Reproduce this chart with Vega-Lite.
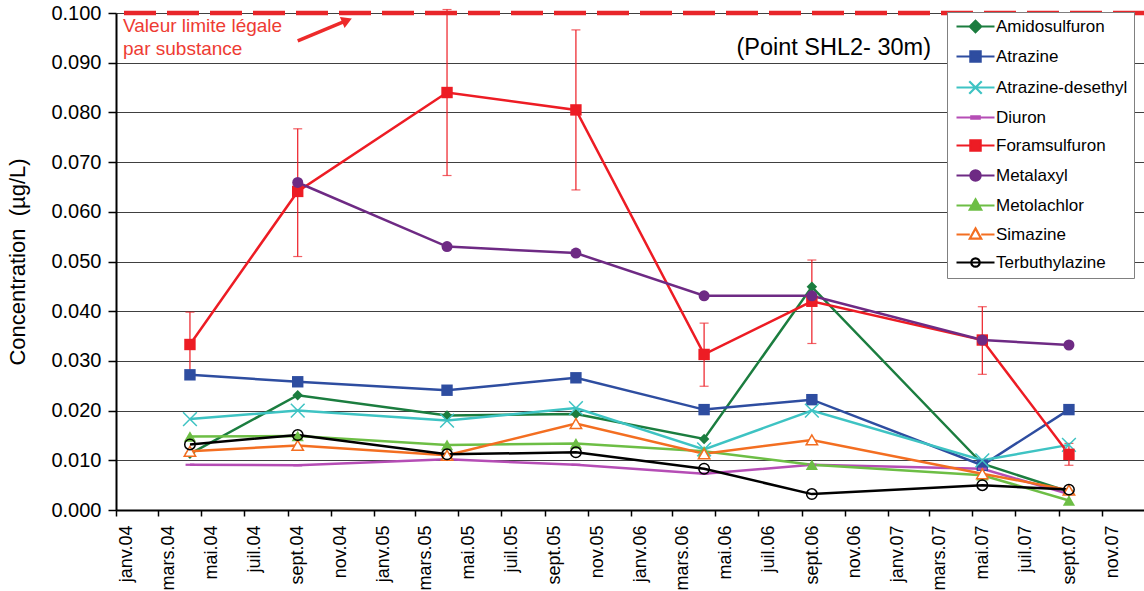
{
  "$schema": "https://vega.github.io/schema/vega-lite/v6.json",
  "width": 1029,
  "height": 497,
  "autosize": "none",
  "padding": {"left": 116, "top": 13, "right": 0, "bottom": 81},
  "config": {
    "view": {"stroke": null},
    "font": "Liberation Sans",
    "axisX": {
      "grid": false,
      "labelAngle": 270,
      "labelAlign": "right",
      "labelBaseline": "middle",
      "labelOffset": 10,
      "labelPadding": 9,
      "labelFontSize": 18,
      "labelColor": "#000",
      "labelOverlap": false,
      "labelFlush": false,
      "domainColor": "#000",
      "domainWidth": 2,
      "tickColor": "#000",
      "tickSize": 6,
      "tickWidth": 1.5
    },
    "axisY": {
      "labelFontSize": 20,
      "labelColor": "#000",
      "labelPadding": 7,
      "grid": true,
      "gridColor": "#404040",
      "gridWidth": 1,
      "domainColor": "#000",
      "domainWidth": 2,
      "tickColor": "#000",
      "tickSize": 8,
      "tickWidth": 1.5,
      "titleFontSize": 22,
      "titleFontWeight": "normal",
      "titleColor": "#000",
      "titlePadding": 21
    }
  },
  "datasets": {
    "conc": [
      {"date": "2004/04/15", "substance": "Amidosulfuron", "value": 0.0113},
      {"date": "2004/09/15", "substance": "Amidosulfuron", "value": 0.0231},
      {"date": "2005/04/15", "substance": "Amidosulfuron", "value": 0.0190},
      {"date": "2005/10/15", "substance": "Amidosulfuron", "value": 0.0193},
      {"date": "2006/04/15", "substance": "Amidosulfuron", "value": 0.0143},
      {"date": "2006/09/15", "substance": "Amidosulfuron", "value": 0.0449},
      {"date": "2007/05/15", "substance": "Amidosulfuron", "value": 0.0093},
      {"date": "2007/09/15", "substance": "Amidosulfuron", "value": 0.0037},
      {"date": "2004/04/15", "substance": "Atrazine", "value": 0.0272},
      {"date": "2004/09/15", "substance": "Atrazine", "value": 0.0258},
      {"date": "2005/04/15", "substance": "Atrazine", "value": 0.0241},
      {"date": "2005/10/15", "substance": "Atrazine", "value": 0.0266},
      {"date": "2006/04/15", "substance": "Atrazine", "value": 0.0202},
      {"date": "2006/09/15", "substance": "Atrazine", "value": 0.0222},
      {"date": "2007/05/15", "substance": "Atrazine", "value": 0.0090},
      {"date": "2007/09/15", "substance": "Atrazine", "value": 0.0202},
      {"date": "2004/04/15", "substance": "Atrazine-desethyl", "value": 0.0183},
      {"date": "2004/09/15", "substance": "Atrazine-desethyl", "value": 0.0200},
      {"date": "2005/04/15", "substance": "Atrazine-desethyl", "value": 0.0180},
      {"date": "2005/10/15", "substance": "Atrazine-desethyl", "value": 0.0205},
      {"date": "2006/04/15", "substance": "Atrazine-desethyl", "value": 0.0122},
      {"date": "2006/09/15", "substance": "Atrazine-desethyl", "value": 0.0200},
      {"date": "2007/05/15", "substance": "Atrazine-desethyl", "value": 0.0100},
      {"date": "2007/09/15", "substance": "Atrazine-desethyl", "value": 0.0131},
      {"date": "2004/04/15", "substance": "Diuron", "value": 0.0091},
      {"date": "2004/09/15", "substance": "Diuron", "value": 0.0090},
      {"date": "2005/04/15", "substance": "Diuron", "value": 0.0102},
      {"date": "2005/10/15", "substance": "Diuron", "value": 0.0091},
      {"date": "2006/04/15", "substance": "Diuron", "value": 0.0073},
      {"date": "2006/09/15", "substance": "Diuron", "value": 0.0091},
      {"date": "2007/05/15", "substance": "Diuron", "value": 0.0083},
      {"date": "2007/09/15", "substance": "Diuron", "value": 0.0032},
      {"date": "2004/04/15", "substance": "Foramsulfuron", "value": 0.0333},
      {"date": "2004/09/15", "substance": "Foramsulfuron", "value": 0.0641},
      {"date": "2005/04/15", "substance": "Foramsulfuron", "value": 0.0840},
      {"date": "2005/10/15", "substance": "Foramsulfuron", "value": 0.0805},
      {"date": "2006/04/15", "substance": "Foramsulfuron", "value": 0.0313},
      {"date": "2006/09/15", "substance": "Foramsulfuron", "value": 0.0420},
      {"date": "2007/05/15", "substance": "Foramsulfuron", "value": 0.0342},
      {"date": "2007/09/15", "substance": "Foramsulfuron", "value": 0.0112},
      {"date": "2004/09/15", "substance": "Metalaxyl", "value": 0.0659},
      {"date": "2005/04/15", "substance": "Metalaxyl", "value": 0.0530},
      {"date": "2005/10/15", "substance": "Metalaxyl", "value": 0.0517},
      {"date": "2006/04/15", "substance": "Metalaxyl", "value": 0.0431},
      {"date": "2006/09/15", "substance": "Metalaxyl", "value": 0.0431},
      {"date": "2007/05/15", "substance": "Metalaxyl", "value": 0.0342},
      {"date": "2007/09/15", "substance": "Metalaxyl", "value": 0.0332},
      {"date": "2004/04/15", "substance": "Metolachlor", "value": 0.0148},
      {"date": "2004/09/15", "substance": "Metolachlor", "value": 0.0149},
      {"date": "2005/04/15", "substance": "Metolachlor", "value": 0.0131},
      {"date": "2005/10/15", "substance": "Metolachlor", "value": 0.0134},
      {"date": "2006/04/15", "substance": "Metolachlor", "value": 0.0118},
      {"date": "2006/09/15", "substance": "Metolachlor", "value": 0.0091},
      {"date": "2007/05/15", "substance": "Metolachlor", "value": 0.0070},
      {"date": "2007/09/15", "substance": "Metolachlor", "value": 0.0019},
      {"date": "2004/04/15", "substance": "Simazine", "value": 0.0118},
      {"date": "2004/09/15", "substance": "Simazine", "value": 0.0130},
      {"date": "2005/04/15", "substance": "Simazine", "value": 0.0110},
      {"date": "2005/10/15", "substance": "Simazine", "value": 0.0174},
      {"date": "2006/04/15", "substance": "Simazine", "value": 0.0113},
      {"date": "2006/09/15", "substance": "Simazine", "value": 0.0141},
      {"date": "2007/05/15", "substance": "Simazine", "value": 0.0073},
      {"date": "2007/09/15", "substance": "Simazine", "value": 0.0040},
      {"date": "2004/04/15", "substance": "Terbuthylazine", "value": 0.0132},
      {"date": "2004/09/15", "substance": "Terbuthylazine", "value": 0.0151},
      {"date": "2005/04/15", "substance": "Terbuthylazine", "value": 0.0112},
      {"date": "2005/10/15", "substance": "Terbuthylazine", "value": 0.0116},
      {"date": "2006/04/15", "substance": "Terbuthylazine", "value": 0.0083},
      {"date": "2006/09/15", "substance": "Terbuthylazine", "value": 0.0032},
      {"date": "2007/05/15", "substance": "Terbuthylazine", "value": 0.0050},
      {"date": "2007/09/15", "substance": "Terbuthylazine", "value": 0.0041}
    ],
    "err": [
      {"date": "2004/04/15", "lo": 0.0266, "hi": 0.0398},
      {"date": "2004/09/15", "lo": 0.0510, "hi": 0.0767},
      {"date": "2005/04/15", "lo": 0.0673, "hi": 0.1007},
      {"date": "2005/10/15", "lo": 0.0644, "hi": 0.0966},
      {"date": "2006/04/15", "lo": 0.0249, "hi": 0.0376},
      {"date": "2006/09/15", "lo": 0.0335, "hi": 0.0503},
      {"date": "2007/05/15", "lo": 0.0273, "hi": 0.0409},
      {"date": "2007/09/15", "lo": 0.0090, "hi": 0.0134}
    ]
  },
  "layer": [
    {
      "data": {"name": "conc"},
      "mark": {"type": "line", "strokeWidth": 2.5},
      "encoding": {
        "x": {
          "field": "date", "type": "temporal",
          "title": null,
          "scale": {"domain": [{"year": 2004, "month": 1, "date": 1}, {"year": 2008, "month": 1, "date": 1}]},
          "axis": {
            "values": [
              {"year": 2004, "month": 1, "date": 1}, {"year": 2004, "month": 3, "date": 1}, {"year": 2004, "month": 5, "date": 1},
              {"year": 2004, "month": 7, "date": 1}, {"year": 2004, "month": 9, "date": 1}, {"year": 2004, "month": 11, "date": 1},
              {"year": 2005, "month": 1, "date": 1}, {"year": 2005, "month": 3, "date": 1}, {"year": 2005, "month": 5, "date": 1},
              {"year": 2005, "month": 7, "date": 1}, {"year": 2005, "month": 9, "date": 1}, {"year": 2005, "month": 11, "date": 1},
              {"year": 2006, "month": 1, "date": 1}, {"year": 2006, "month": 3, "date": 1}, {"year": 2006, "month": 5, "date": 1},
              {"year": 2006, "month": 7, "date": 1}, {"year": 2006, "month": 9, "date": 1}, {"year": 2006, "month": 11, "date": 1},
              {"year": 2007, "month": 1, "date": 1}, {"year": 2007, "month": 3, "date": 1}, {"year": 2007, "month": 5, "date": 1},
              {"year": 2007, "month": 7, "date": 1}, {"year": 2007, "month": 9, "date": 1}, {"year": 2007, "month": 11, "date": 1}
            ],
            "labelExpr": "['janv','févr','mars','avr','mai','juin','juil','août','sept','oct','nov','déc'][month(datum.value)] + '.' + timeFormat(datum.value, '%y')"
          }
        },
        "y": {
          "field": "value", "type": "quantitative",
          "title": "Concentration\u00a0 (µg/L)",
          "scale": {"domain": [0, 0.1]},
          "axis": {
            "values": [0, 0.01, 0.02, 0.03, 0.04, 0.05, 0.06, 0.07, 0.08, 0.09, 0.1],
            "format": ".3f"
          }
        },
        "color": {
          "field": "substance", "type": "nominal",
          "scale": {
            "domain": ["Amidosulfuron", "Atrazine", "Atrazine-desethyl", "Diuron", "Foramsulfuron", "Metalaxyl", "Metolachlor", "Simazine", "Terbuthylazine"],
            "range": ["#1B7D3F", "#2E4DA0", "#3EC3C3", "#B54DB5", "#ED1C24", "#6E2A84", "#6DBE45", "#F36E21", "#000000"]
          },
          "legend": {
            "title": null,
            "orient": "none",
            "legendX": 831,
            "legendY": -1,
            "fillColor": "#ffffff",
            "strokeColor": "#808080",
            "padding": 6,
            "symbolSize": 100,
            "symbolOffset": 14,
            "labelOffset": 12,
            "rowPadding": 9,
            "labelFontSize": 17,
            "labelColor": "#000",
            "labelLimit": 300,
            "encode": {
              "symbols": {
                "update": {
                  "shape": {"signal": "datum.value === 'Amidosulfuron' ? 'M-3.8,0H3.8M0,-1.14L1.14,0L0,1.14L-1.14,0Z' : (datum.value === 'Atrazine' || datum.value === 'Foramsulfuron') ? 'M-3.8,0H3.8M-1.03,-1.03H1.03V1.03H-1.03Z' : datum.value === 'Atrazine-desethyl' ? 'M-3.8,0H3.8M-1.25,-1.25L1.25,1.25M-1.25,1.25L1.25,-1.25' : datum.value === 'Diuron' ? 'M-3.8,0H3.8M-0.84,-0.23H0.84V0.23H-0.84Z' : datum.value === 'Metalaxyl' ? 'M-3.8,0H3.8M1.03,0A1.03,1.03,0,1,1,-1.03,0A1.03,1.03,0,1,1,1.03,0Z' : datum.value === 'Metolachlor' ? 'M-3.8,0H3.8M0,-1.22L1.14,0.84L-1.14,0.84Z' : datum.value === 'Simazine' ? 'M-3.8,0H-1.14M1.14,0H3.8M0,-1.22L1.14,0.84L-1.14,0.84Z' : 'M-3.8,0H3.8M0.84,0A0.84,0.84,0,1,1,-0.84,0A0.84,0.84,0,1,1,0.84,0Z'"},
                  "fill": {"signal": "datum.value === 'Simazine' ? '#ffffff' : (datum.value === 'Terbuthylazine' || datum.value === 'Atrazine-desethyl') ? 'transparent' : scale('color', datum.value)"},
                  "size": {"value": 100},
                  "strokeWidth": {"value": 2.2}
                }
              }
            }
          }
        }
      }
    },
    {
      "data": {"name": "err"},
      "mark": {"type": "errorbar", "color": "#ED1C24", "thickness": 1.2, "size": 9, "ticks": true},
      "encoding": {
        "x": {"field": "date", "type": "temporal", "title": null},
        "y": {"field": "lo", "type": "quantitative", "title": "Concentration\u00a0 (µg/L)"},
        "y2": {"field": "hi"}
      }
    },
    {
      "data": {"name": "conc"},
      "transform": [{"filter": "datum.substance === 'Amidosulfuron'"}],
      "mark": {"type": "point", "shape": "diamond", "filled": true, "color": "#1B7D3F", "size": 110, "opacity": 1},
      "encoding": {"x": {"field": "date", "type": "temporal", "title": null}, "y": {"field": "value", "type": "quantitative", "title": "Concentration\u00a0 (µg/L)"}}
    },
    {
      "data": {"name": "conc"},
      "transform": [{"filter": "datum.substance === 'Atrazine'"}],
      "mark": {"type": "point", "shape": "square", "filled": true, "color": "#2E4DA0", "size": 130, "opacity": 1},
      "encoding": {"x": {"field": "date", "type": "temporal", "title": null}, "y": {"field": "value", "type": "quantitative", "title": "Concentration\u00a0 (µg/L)"}}
    },
    {
      "data": {"name": "conc"},
      "transform": [{"filter": "datum.substance === 'Atrazine-desethyl'"}],
      "mark": {"type": "point", "shape": "M-1.25,-1.25L1.25,1.25M-1.25,1.25L1.25,-1.25", "filled": false, "stroke": "#3EC3C3", "strokeWidth": 1.5, "size": 121, "opacity": 1},
      "encoding": {"x": {"field": "date", "type": "temporal", "title": null}, "y": {"field": "value", "type": "quantitative", "title": "Concentration\u00a0 (µg/L)"}}
    },
    {
      "data": {"name": "conc"},
      "transform": [{"filter": "datum.substance === 'Diuron'"}],
      "mark": {"type": "point", "shape": "M-0.8,-0.2H0.8V0.2H-0.8Z", "filled": true, "color": "#B54DB5", "size": 121, "opacity": 1},
      "encoding": {"x": {"field": "date", "type": "temporal", "title": null}, "y": {"field": "value", "type": "quantitative", "title": "Concentration\u00a0 (µg/L)"}}
    },
    {
      "data": {"name": "conc"},
      "transform": [{"filter": "datum.substance === 'Foramsulfuron'"}],
      "mark": {"type": "point", "shape": "square", "filled": true, "color": "#ED1C24", "size": 130, "opacity": 1},
      "encoding": {"x": {"field": "date", "type": "temporal", "title": null}, "y": {"field": "value", "type": "quantitative", "title": "Concentration\u00a0 (µg/L)"}}
    },
    {
      "data": {"name": "conc"},
      "transform": [{"filter": "datum.substance === 'Metalaxyl'"}],
      "mark": {"type": "point", "shape": "circle", "filled": true, "color": "#6E2A84", "size": 121, "opacity": 1},
      "encoding": {"x": {"field": "date", "type": "temporal", "title": null}, "y": {"field": "value", "type": "quantitative", "title": "Concentration\u00a0 (µg/L)"}}
    },
    {
      "data": {"name": "conc"},
      "transform": [{"filter": "datum.substance === 'Metolachlor'"}],
      "mark": {"type": "point", "shape": "triangle-up", "filled": true, "color": "#6DBE45", "size": 150, "opacity": 1},
      "encoding": {"x": {"field": "date", "type": "temporal", "title": null}, "y": {"field": "value", "type": "quantitative", "title": "Concentration\u00a0 (µg/L)"}}
    },
    {
      "data": {"name": "conc"},
      "transform": [{"filter": "datum.substance === 'Simazine'"}],
      "mark": {"type": "point", "shape": "triangle-up", "filled": false, "fill": "#ffffff", "stroke": "#F36E21", "strokeWidth": 1.5, "size": 130, "opacity": 1},
      "encoding": {"x": {"field": "date", "type": "temporal", "title": null}, "y": {"field": "value", "type": "quantitative", "title": "Concentration\u00a0 (µg/L)"}}
    },
    {
      "data": {"name": "conc"},
      "transform": [{"filter": "datum.substance === 'Terbuthylazine'"}],
      "mark": {"type": "point", "shape": "circle", "filled": false, "fill": "transparent", "stroke": "#000000", "strokeWidth": 1.5, "size": 110, "opacity": 1},
      "encoding": {"x": {"field": "date", "type": "temporal", "title": null}, "y": {"field": "value", "type": "quantitative", "title": "Concentration\u00a0 (µg/L)"}}
    },
    {
      "data": {"values": [{}]},
      "mark": {"type": "rule", "color": "#E8262A", "strokeWidth": 4.5, "strokeDash": [32, 11]},
      "encoding": {"y": {"datum": 0.1}}
    },
    {
      "data": {"values": [{}]},
      "mark": {"type": "rule", "color": "#ED2A2A", "strokeWidth": 3.5},
      "encoding": {
        "x": {"datum": {"year": 2004, "month": 9, "date": 15}},
        "y": {"datum": 0.0944},
        "x2": {"datum": {"year": 2004, "month": 11, "date": 24}},
        "y2": {"datum": 0.0985}
      }
    },
    {
      "data": {"values": [{}]},
      "mark": {"type": "point", "shape": "triangle-up", "filled": true, "color": "#ED2A2A", "size": 144, "angle": 67, "opacity": 1},
      "encoding": {
        "x": {"datum": {"year": 2004, "month": 11, "date": 24}},
        "y": {"datum": 0.0985}
      }
    },
    {
      "data": {"values": [{}]},
      "mark": {"type": "text", "text": ["Valeur limite légale", "par substance"], "align": "left", "baseline": "alphabetic", "fontSize": 19, "lineHeight": 22.4, "color": "#EE3B33"},
      "encoding": {
        "x": {"datum": {"year": 2004, "month": 1, "date": 11}},
        "y": {"datum": 0.0961}
      }
    },
    {
      "data": {"values": [{}]},
      "mark": {"type": "text", "text": "(Point SHL2- 30m)", "align": "center", "baseline": "alphabetic", "fontSize": 23.5, "color": "#000"},
      "encoding": {
        "x": {"datum": {"year": 2006, "month": 10, "date": 16}},
        "y": {"datum": 0.0916}
      }
    }
  ]
}
